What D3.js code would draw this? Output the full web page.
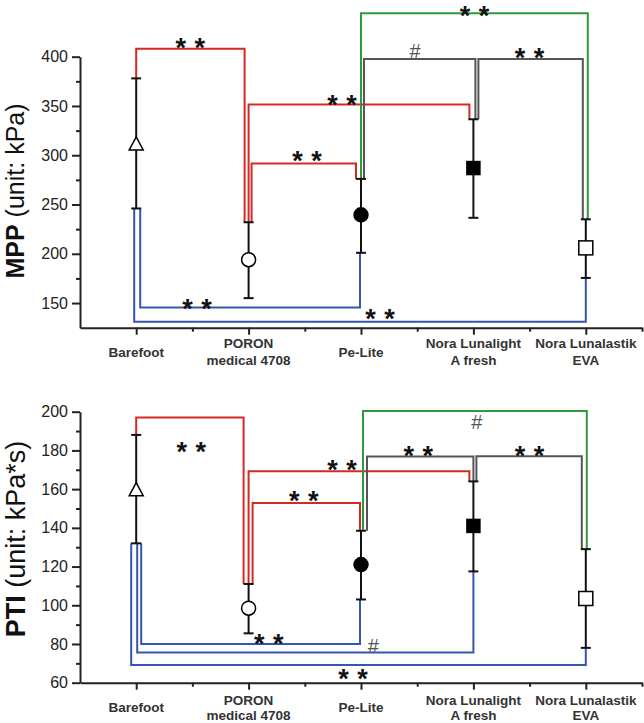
<!DOCTYPE html>
<html>
<head>
<meta charset="utf-8">
<script src="https://cdn.jsdelivr.net/npm/d3@7"></script>
<style>
  html, body { margin: 0; padding: 0; background: #fff; }
  svg { display: block; font-family: "Liberation Sans", Arial, sans-serif; }
</style>
</head>
<body>
<svg id="chart" width="644" height="723"></svg>
<script>
// ---------- data ----------
const categories = ["Barefoot", "PORON medical 4708", "Pe-Lite", "Nora Lunalight A fresh", "Nora Lunalastik EVA"];
const categoryLines = [["Barefoot"], ["PORON", "medical 4708"], ["Pe-Lite"], ["Nora Lunalight", "A fresh"], ["Nora Lunalastik", "EVA"]];
const markerTypes = ["triangle-open", "circle-open", "circle-filled", "square-filled", "square-open"];

const mppMean  = [312, 194, 239.5, 287, 206];
const mppUpper = [378, 232, 276, 336.5, 235];
const mppLower = [246, 155, 201, 236.5, 175.5];
const mppTicks = [150, 200, 250, 300, 350, 400];
const mppMinorTicks = [175, 225, 275, 325, 375];

const ptiMean  = [160, 98.5, 121, 141, 103.5];
const ptiUpper = [188, 111, 138.5, 164, 129];
const ptiLower = [132, 85.5, 103, 117.5, 78];
const ptiTicks = [60, 80, 100, 120, 140, 160, 180, 200];
const ptiMinorTicks = [70, 90, 110, 130, 150, 170, 190];

// significance brackets: from/to category index, side, level (data units), label, label anchor (category, value)
const mppBrackets = [
  {from: 0, to: 1, side: "up",   level: 408,   label: "**", group: "red",   labelAt: 0.48, labelValue: 415.4},
  {from: 1, to: 3, side: "up",   level: 351.4, label: "**", group: "red",   labelAt: 1.83, labelValue: 356.9},
  {from: 1, to: 2, side: "up",   level: 291.5, label: "**", group: "red",   labelAt: 1.52, labelValue: 300.3},
  {from: 2, to: 4, side: "up",   level: 444,   label: "**", group: "green", labelAt: 3.01, labelValue: 447.5},
  {from: 2, to: 3, side: "up",   level: 397.6, label: "#",  group: "gray",  labelAt: 2.48, labelValue: 406.2},
  {from: 3, to: 4, side: "up",   level: 397.6, label: "**", group: "gray",  labelAt: 3.50, labelValue: 405.2},
  {from: 0, to: 2, side: "down", level: 145.6, label: "**", group: "blue",  labelAt: 0.54, labelValue: 150.4},
  {from: 0, to: 4, side: "down", level: 131,   label: "**", group: "blue",  labelAt: 2.17, labelValue: 139.6}
];
const ptiBrackets = [
  {from: 0, to: 1, side: "up",   level: 197,   label: "**", group: "red",   labelAt: 0.49, labelValue: 182.3},
  {from: 1, to: 3, side: "up",   level: 169.3, label: "**", group: "red",   labelAt: 1.83, labelValue: 173},
  {from: 1, to: 2, side: "up",   level: 152.8, label: "**", group: "red",   labelAt: 1.49, labelValue: 157},
  {from: 2, to: 4, side: "up",   level: 200.4, label: "#",  group: "green", labelAt: 3.03, labelValue: 194.7},
  {from: 2, to: 3, side: "up",   level: 176.8, label: "**", group: "gray",  labelAt: 2.51, labelValue: 180.2},
  {from: 3, to: 4, side: "up",   level: 177,   label: "**", group: "gray",  labelAt: 3.50, labelValue: 180.2},
  {from: 0, to: 2, side: "down", level: 80,    label: "**", group: "blue",  labelAt: 1.18, labelValue: 83.1},
  {from: 0, to: 3, side: "down", level: 75.6,  label: "#",  group: "blue",  labelAt: 2.11, labelValue: 78.9},
  {from: 0, to: 4, side: "down", level: 69.2,  label: "**", group: "blue",  labelAt: 1.93, labelValue: 64.9}
];

// ---------- layout / style ----------
const groupColors = {red: "#d42a23", green: "#2f9a3c", gray: "#555555", blue: "#3456b0"};
// horizontal pixel nudges for bracket ends (so parallel lines don't overlap)
const mppBracketNudges = [[0, -4], [0, -4], [3, -5], [0, 2], [3, 2], [5, -3], [4, -1], [-2, 0]];
const ptiBracketNudges = [[0, -5], [0, -4], [4, -1], [2, 1], [6, 0], [3, -4], [5, -1], [1, 0], [-5, 0]];

const svg = d3.select("#chart");
const x = d3.scaleLinear().domain([-0.5, 4.5]).range([80, 642]);

function drawPanel(cfg) {
  const y = d3.scaleLinear().domain(cfg.domain).range(cfg.range);
  const g = svg.append("g");

  // axes
  const yAxis = g.append("g").attr("transform", `translate(${x.range()[0]},0)`)
    .call(d3.axisLeft(y).tickValues(cfg.ticks).tickSize(8).tickSizeOuter(0).tickPadding(4));
  g.append("g").attr("transform", `translate(${x.range()[0]},0)`)
    .call(d3.axisLeft(y).tickValues(cfg.minor).tickSize(4).tickSizeOuter(0).tickFormat(""))
    .select(".domain").remove();
  g.append("g").attr("transform", `translate(0,${cfg.range[0]})`)
    .call(d3.axisBottom(x).tickValues(d3.range(categories.length)).tickSize(7).tickSizeOuter(0).tickFormat(""));
  g.append("g").attr("transform", `translate(0,${cfg.range[0]})`)
    .call(d3.axisBottom(x).tickValues(d3.range(categories.length + 1).map(i => i - 0.5).filter(v => v > -0.5)).tickSize(4).tickSizeOuter(0).tickFormat(""))
    .select(".domain").remove();
  g.selectAll(".domain, .tick line").attr("stroke", "#222").attr("stroke-width", 2);
  yAxis.selectAll(".tick text").attr("font-size", 16).attr("fill", "#222")
    .attr("font-family", "'Liberation Sans', Arial, sans-serif");

  // category labels
  categoryLines.forEach((lines, i) => {
    const t = g.append("text").attr("text-anchor", "middle").attr("font-weight", "bold")
      .attr("font-size", 13.5).attr("fill", "#333");
    const lh = cfg.lineGap;
    const y0 = cfg.labelCenter - (lines.length - 1) * lh / 2;
    lines.forEach((ln, k) => {
      t.append("tspan").attr("x", x(i)).attr("y", y0 + k * lh + 4.8).text(ln);
    });
  });

  // y title
  const title = g.append("text")
    .attr("transform", `translate(${cfg.titleX},${cfg.titleY}) rotate(-90)`)
    .attr("text-anchor", "middle").attr("font-size", cfg.titleSize).attr("fill", "#111");
  title.append("tspan").attr("font-weight", "bold").text(cfg.titleBold);
  title.append("tspan").text(" " + cfg.titleRest);

  // brackets
  cfg.brackets.forEach((b, i) => {
    const n = cfg.nudges[i];
    const ends = b.side === "up" ? cfg.upper : cfg.lower;
    const x1 = x(b.from) + n[0], x2 = x(b.to) + n[1];
    const p = d3.path();
    p.moveTo(x1, y(ends[b.from]));
    p.lineTo(x1, y(b.level));
    p.lineTo(x2, y(b.level));
    p.lineTo(x2, y(ends[b.to]));
    g.append("path").attr("d", p.toString()).attr("fill", "none")
      .attr("stroke", groupColors[b.group]).attr("stroke-width", 2);
  });

  // error bars
  const eb = g.append("g").attr("stroke", "#111").attr("stroke-width", 2);
  categories.forEach((c, i) => {
    eb.append("line").attr("x1", x(i)).attr("x2", x(i)).attr("y1", y(cfg.upper[i])).attr("y2", y(cfg.lower[i]));
    [cfg.upper[i], cfg.lower[i]].forEach(v => {
      eb.append("line").attr("x1", x(i) - 5).attr("x2", x(i) + 5).attr("y1", y(v)).attr("y2", y(v));
    });
  });

  // markers
  categories.forEach((c, i) => {
    const t = markerTypes[i];
    const cx = x(i), cy = y(cfg.mean[i]);
    const filled = t.endsWith("filled");
    let sel;
    if (t.startsWith("triangle")) {
      const h = 13, w = 14;
      sel = g.append("path").attr("d", `M${cx},${cy - h / 2}L${cx + w / 2},${cy + h / 2}L${cx - w / 2},${cy + h / 2}Z`);
    } else if (t.startsWith("circle")) {
      sel = g.append("circle").attr("cx", cx).attr("cy", cy).attr("r", 7);
    } else {
      const s = filled ? 13 : 14;
      sel = g.append("rect").attr("x", cx - s / 2).attr("y", cy - s / 2).attr("width", s).attr("height", s);
    }
    sel.attr("fill", filled ? "#000" : "#fff").attr("stroke", "#000").attr("stroke-width", 1.5);
  });

  // significance labels
  cfg.brackets.forEach(b => {
    const lx = x(b.labelAt), ly = y(b.labelValue);
    if (b.label === "**") {
      [-9.5, 9.5].forEach(dx => {
        g.append("text").attr("x", lx + dx).attr("y", ly + 15).attr("text-anchor", "middle")
          .attr("font-size", 27).attr("font-weight", "bold").attr("fill", "#111").text("*");
      });
    } else {
      g.append("text").attr("x", lx).attr("y", ly + 7).attr("text-anchor", "middle")
        .attr("font-size", 20).attr("fill", "#555").text(b.label);
    }
  });
}

drawPanel({
  domain: [125, 400], range: [327.7, 56.7], ticks: mppTicks, minor: mppMinorTicks,
  mean: mppMean, upper: mppUpper, lower: mppLower,
  brackets: mppBrackets, nudges: mppBracketNudges,
  labelCenter: 352, lineGap: 17,
  titleX: 24, titleY: 191, titleSize: 25, titleBold: "MPP", titleRest: "(unit: kPa)"
});

drawPanel({
  domain: [60, 200], range: [682.7, 411.7], ticks: ptiTicks, minor: ptiMinorTicks,
  mean: ptiMean, upper: ptiUpper, lower: ptiLower,
  brackets: ptiBrackets, nudges: ptiBracketNudges,
  labelCenter: 707.5, lineGap: 15.5,
  titleX: 25, titleY: 539, titleSize: 27, titleBold: "PTI", titleRest: "(unit: kPa*s)"
});
</script>
</body>
</html>
